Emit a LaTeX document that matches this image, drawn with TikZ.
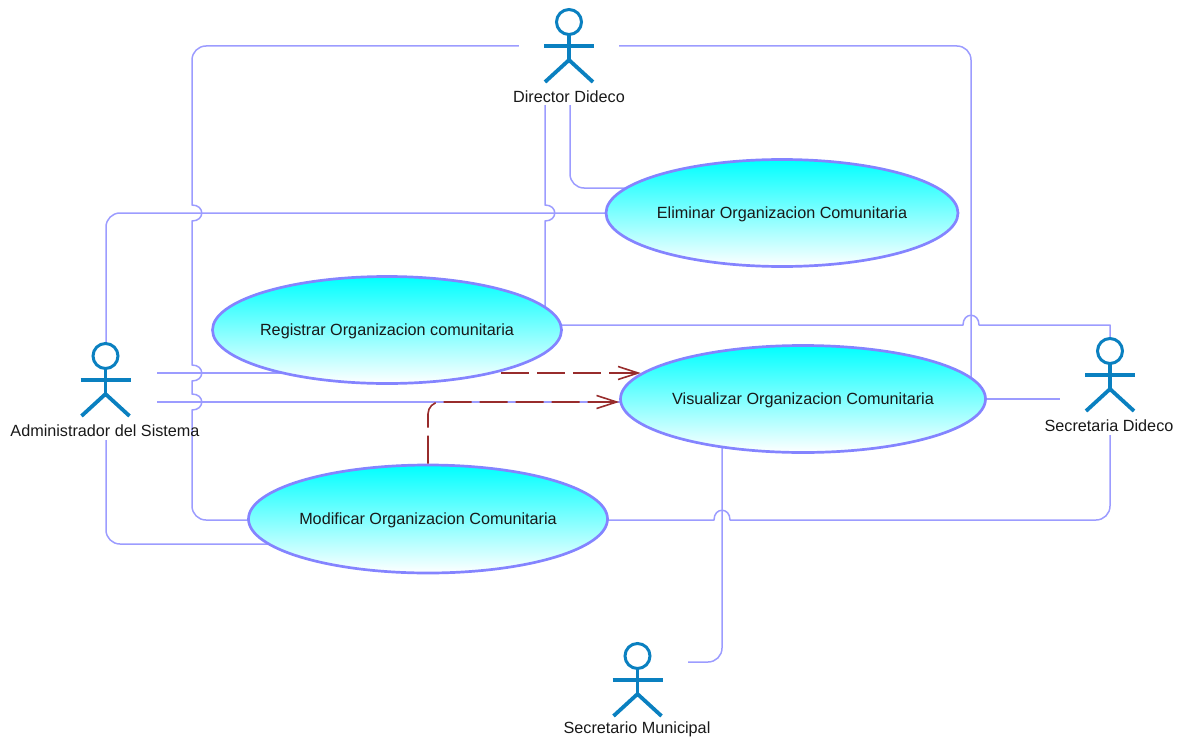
\documentclass[tikz,border=0pt]{standalone}
\usepackage{fontspec}
\setmainfont{Liberation Sans}
\usetikzlibrary{shapes.geometric,arrows.meta}
\definecolor{connc}{HTML}{9C9CFF}
\definecolor{borderc}{HTML}{8484FF}
\definecolor{actorc}{HTML}{0A80C0}
\definecolor{depc}{HTML}{982C2C}
\tikzset{
  usecase/.style={ellipse,draw=borderc,line width=2.7pt,top color=cyan,bottom color=white,inner sep=0pt},
  usetext/.style={inner sep=0pt,yshift=-1.8pt,font=\fontsize{16.2}{18}\selectfont,text=black!90},
  conn/.style={draw=connc,line width=1.5pt,line join=round},
  dep/.style={draw=depc,line width=1.6pt,dash pattern=on 28pt off 8pt,-{Straight Barb[length=20pt,width=13pt,line width=1.6pt]}},
  actorbox/.style={rectangle,inner sep=0pt},
  actorline/.style={draw=actorc,line width=3.8pt},
  actorhead/.style={draw=actorc,line width=3pt},
  actorlabel/.style={inner sep=0pt,font=\fontsize{16.2}{18}\selectfont,text=black!90}
}
\newcommand{\vjump}[2]{-- (#1,#2-8) .. controls (#1+13,#2-8) and (#1+13,#2+8) .. (#1,#2+8)}
\newcommand{\hjump}[2]{-- (#1-8,#2) .. controls (#1-8,#2-13) and (#1+8,#2-13) .. (#1+8,#2)}
\newcommand{\actorfig}[2]{%
  \draw[actorhead] (#1,#2) circle[radius=12.5pt];
  \draw[actorline] (#1,#2+12) -- (#1,#2+38);
  \draw[actorline,line join=miter] (#1-24,#2+60) -- (#1,#2+38) -- (#1+24,#2+60);
  \draw[actorline] (#1-25,#2+24) -- (#1+25,#2+24);
}
\begin{document}
\begin{tikzpicture}[x=1pt,y=-1pt]
\useasboundingbox (0,0) rectangle (1185,741);
\node[actorbox,minimum width=100pt,minimum height=97pt] (dir) at (569,56.5) {};
\node[actorbox,minimum width=102pt,minimum height=97pt] (adm) at (106,391.5) {};
\node[actorbox,minimum width=100pt,minimum height=95pt] (sec) at (1110,387.5) {};
\node[actorbox,minimum width=102pt,minimum height=100pt] (mun) at (637,691) {};
\coordinate (eli) at (782,213);
\coordinate (reg) at (387,330);
\coordinate (vis) at (803,399);
\coordinate (mod) at (428,519);
% connectors
\draw[conn] (dir.west |- 0,46) [rounded corners=14pt] -- (192,46) [sharp corners] \vjump{192}{213} \vjump{192}{373} \vjump{192}{402} [rounded corners=14pt] -- (192,520) -- (mod |- 0,520);
\draw[conn,rounded corners=14pt] (dir.east |- 0,46) -- (971,46) -- (971,0 |- vis);
\draw[conn,rounded corners=14pt] (dir.south -| 570,0) -- (570,188) -- (eli |- 0,188);
\draw[conn] (dir.south -| 545,0) \vjump{545}{213} -- (545,0 |- reg);
\draw[conn,rounded corners=14pt] (adm.north) -- (106,213) -- (eli);
\draw[conn] (adm.east |- 0,373) -- (reg |- 0,373);
\draw[conn] (adm.east |- 0,402) -- (vis |- 0,402);
\draw[conn,rounded corners=14pt] (adm.south) -- (106,544) -- (mod |- 0,544);
\draw[conn] (reg |- 0,325) \hjump{971}{325} -- (1110,325) -- (sec.north);
\draw[conn] (vis) -- (sec.west |- vis);
\draw[conn] (mod |- 0,520) \hjump{722}{520} [rounded corners=14pt] -- (1110,520) -- (sec.south);
\draw[conn,rounded corners=14pt] (722,0 |- vis) -- (722,662) -- (mun.east |- 0,662);
% use cases
\node[usecase,minimum width=352pt,minimum height=107pt,label={[usetext]center:Eliminar Organizacion Comunitaria}] (eliN) at (eli) {};
\node[usecase,minimum width=349pt,minimum height=107pt,label={[usetext]center:Registrar Organizacion comunitaria}] (regN) at (reg) {};
\node[usecase,minimum width=365pt,minimum height=107pt,label={[usetext]center:Visualizar Organizacion Comunitaria}] (visN) at (vis) {};
\node[usecase,minimum width=359pt,minimum height=108pt,label={[usetext]center:Modificar Organizacion Comunitaria}] (modN) at (mod) {};
% dependencies
\draw[dep] (regN.-20.5 |- 0,373) -- (visN.171 |- 0,373);
\draw[dep,rounded corners=12pt] (modN.north) -- (428,402) -- (visN.west |- 0,402);
% actors
\actorfig{569}{22}
\actorfig{105.5}{356}
\actorfig{1110}{351}
\actorfig{637.5}{656}
\node[actorlabel] (dirL) at (569,96.5) {Director Dideco};
\node[actorlabel] (admL) at (105,430.5) {Administrador del Sistema};
\node[actorlabel] (secL) at (1109,425.5) {Secretaria Dideco};
\node[actorlabel] (munL) at (637,729.5) {Secretario Municipal};
\end{tikzpicture}
\end{document}
